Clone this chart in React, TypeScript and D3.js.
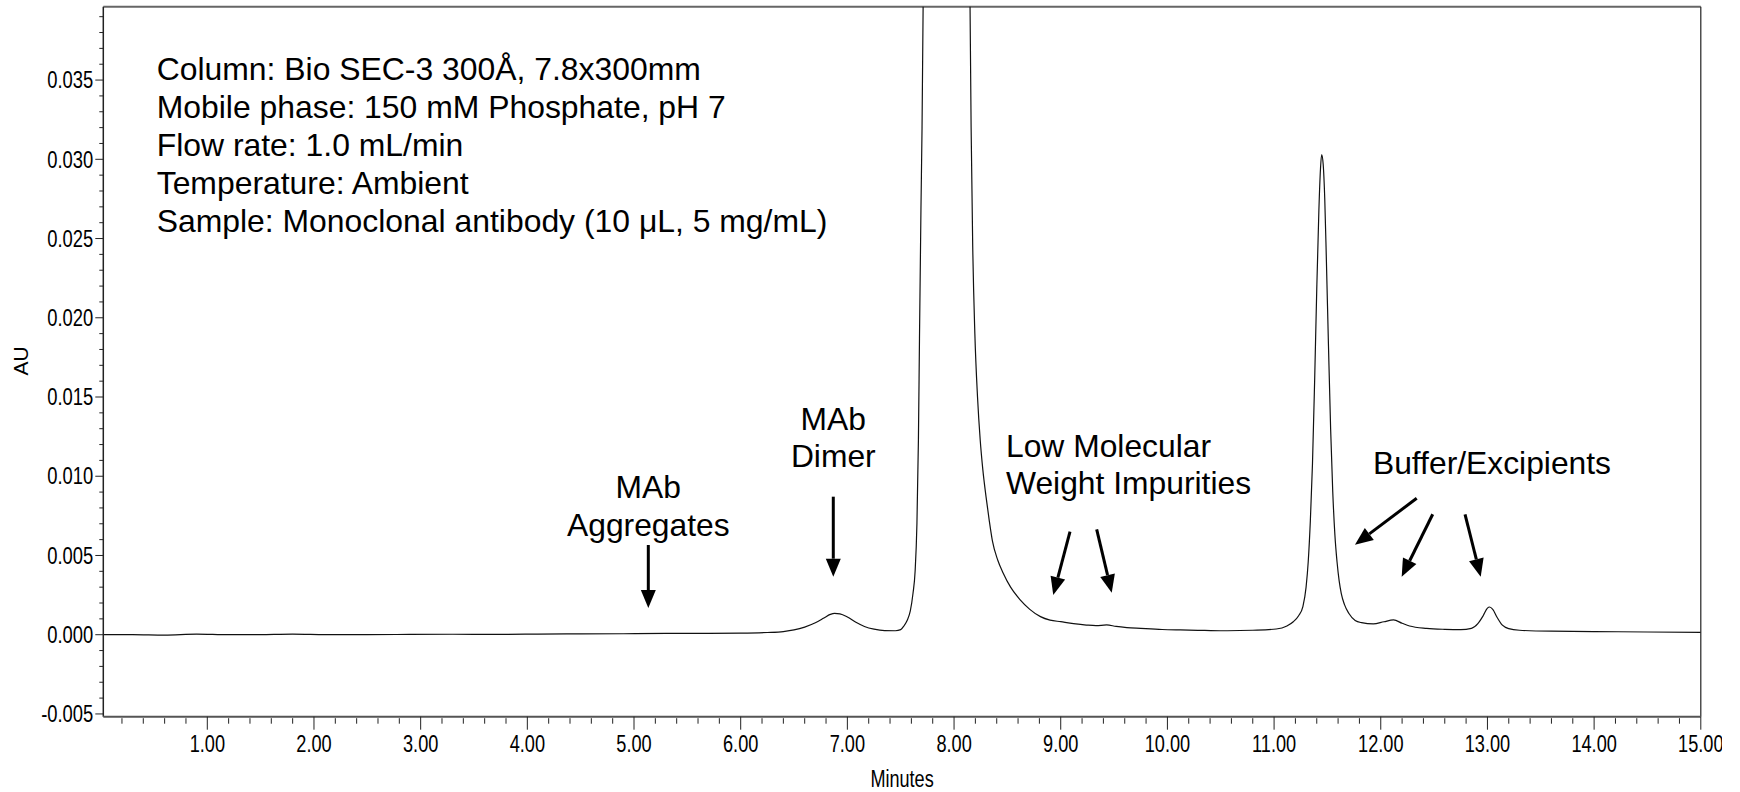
import React from 'react';
import * as d3 from 'd3';

// ---- Data ----
const times = [
  0.03, 0.3, 0.6, 0.9, 1.2, 1.5, 1.8, 2.1, 2.5, 2.9, 3.3, 3.7, 4.1, 4.5, 4.9, 5.3, 5.7, 6.0, 6.25, 6.4,
  6.5, 6.6, 6.7, 6.78, 6.84, 6.88, 6.93, 7.0, 7.08, 7.16, 7.25, 7.35, 7.45, 7.5, 7.53, 7.56, 7.59, 7.615,
  7.635, 7.652, 7.666, 7.676, 7.69, 7.7, 7.71, 7.74, 7.8, 7.93, 8.05, 8.12, 8.15, 8.16, 8.175, 8.195,
  8.22, 8.245, 8.27, 8.3, 8.33, 8.36, 8.41, 8.46, 8.53, 8.62, 8.71, 8.81, 8.9, 9.0, 9.12, 9.24, 9.33,
  9.43, 9.52, 9.62, 9.75, 9.95, 10.12, 10.35, 10.56, 10.8, 11.02, 11.12, 11.18, 11.23, 11.27, 11.3,
  11.32, 11.34, 11.36, 11.38, 11.4, 11.42, 11.435, 11.446, 11.46, 11.475, 11.49, 11.51, 11.53, 11.55,
  11.57, 11.59, 11.61, 11.63, 11.66, 11.7, 11.76, 11.82, 11.93, 12.03, 12.12, 12.2, 12.27, 12.43, 12.6,
  12.75, 12.85, 12.91, 12.96, 13.0, 13.02, 13.05, 13.09, 13.14, 13.2, 13.3, 13.6, 14.0, 14.5, 15.0,
];
const absorbance = [
  0.0, 0.00001, -0.00002, 0.00004, 0.0, 0.00001, 0.00004, 0.00001, 0.0, 0.00002, 0.00003, 0.00002,
  0.00004, 0.00005, 0.00006, 0.00008, 0.00009, 0.0001, 0.00014, 0.0002,
  0.0003, 0.00048, 0.00075, 0.00105, 0.00128, 0.00135, 0.00132, 0.00112, 0.00078, 0.00052, 0.00035,
  0.00026, 0.00025, 0.00032, 0.00055, 0.0009, 0.0015, 0.0026,
  0.004, 0.007, 0.0123, 0.0187, 0.027, 0.032, 0.0396, 0.07, 0.13, 0.17, 0.13, 0.07, 0.0396, 0.032,
  0.0245, 0.019,
  0.015, 0.0123, 0.0104, 0.0087, 0.0072, 0.0059, 0.0047, 0.0039, 0.003, 0.0022, 0.0016, 0.00114,
  0.00092, 0.00082, 0.0007, 0.00061, 0.00057,
  0.00062, 0.00052, 0.00045, 0.0004, 0.00033, 0.0003, 0.00027, 0.00025, 0.00028, 0.00036, 0.00055,
  0.00082, 0.0012, 0.00177, 0.003,
  0.0046, 0.0072, 0.0108, 0.016, 0.0218, 0.0268, 0.0294, 0.0303, 0.0297, 0.0275, 0.0237, 0.0182,
  0.013, 0.009,
  0.0063, 0.0046, 0.0034, 0.0026, 0.0019, 0.00135, 0.0009, 0.00076, 0.00068, 0.00082, 0.00093,
  0.00072, 0.00055, 0.0004, 0.00034,
  0.00032, 0.0004, 0.0007, 0.0012, 0.00168, 0.00175, 0.0016, 0.0011, 0.0006, 0.00038, 0.00028,
  0.00022, 0.0002, 0.00017, 0.00015,
];

const xTickValues = [1, 2, 3, 4, 5, 6, 7, 8, 9, 10, 11, 12, 13, 14, 15];
const yTickValues = [-0.005, 0, 0.005, 0.01, 0.015, 0.02, 0.025, 0.03, 0.035];

const infoLines = [
  'Column: Bio SEC-3 300Å, 7.8x300mm',
  'Mobile phase: 150 mM Phosphate, pH 7',
  'Flow rate: 1.0 mL/min',
  'Temperature: Ambient',
  'Sample: Monoclonal antibody (10 \u03bcL, 5 mg/mL)',
];

const labelTexts = [
  ['MAb', 'Aggregates'],
  ['MAb', 'Dimer'],
  ['Low Molecular', 'Weight Impurities'],
  ['Buffer/Excipients'],
];
const labelTimes = [5.134, 6.868, 8.487, 11.927];
const labelValues = [0.00862, 0.01292, 0.01123, 0.01014];
const labelAnchors = ['middle', 'middle', 'start', 'start'];

// arrows: start (t, v) -> end (t, v)
const arrowStartT = [5.134, 6.868, 9.087, 9.337, 12.337, 12.487, 12.79];
const arrowStartV = [0.00566, 0.00871, 0.0065, 0.00665, 0.00861, 0.0076, 0.0076];
const arrowEndT = [5.134, 6.868, 8.93, 9.478, 11.758, 12.196, 12.937];
const arrowEndV = [0.00168, 0.00366, 0.0025, 0.00265, 0.00568, 0.00365, 0.00365];

// ---- Layout ----
const W = 1740;
const H = 792;
const left = 103.3;
const right = 1700.8;
const top = 6.7;
const bottom = 716.7;
const FONT = "'Liberation Sans', Arial, Helvetica, sans-serif";

export default function App() {
  const x = d3.scaleLinear().domain([0.0251, 15]).range([left, right]);
  const y = d3.scaleLinear().domain([-0.005174, 0.03963]).range([bottom, top]);

  const pts: [number, number][] = times.map((t, i) => [t, absorbance[i]]);
  const line = d3
    .line<[number, number]>()
    .x((d) => x(d[0]))
    .y((d) => y(d[1]))
    .curve(d3.curveMonotoneX);

  const xMinor = d3.range(1, 75).map((i) => i * 0.2).filter((v) => Math.abs(v - Math.round(v)) > 1e-6);
  const yMinor = d3.range(-5, 40).map((i) => i * 0.001).filter((v) => Math.abs(v * 200 - Math.round(v * 200)) > 1e-6);

  const arrows = arrowStartT.map((t, i) => {
    const x1 = x(t), y1 = y(arrowStartV[i]);
    const x2 = x(arrowEndT[i]), y2 = y(arrowEndV[i]);
    const len = Math.hypot(x2 - x1, y2 - y1);
    const ux = (x2 - x1) / len, uy = (y2 - y1) / len;
    const hl = 18, hw = 7.5;
    const bx = x2 - ux * hl, by = y2 - uy * hl;
    const px = -uy, py = ux;
    return {
      x1, y1, bx, by,
      head: `${x2},${y2} ${bx + px * hw},${by + py * hw} ${bx - px * hw},${by - py * hw}`,
    };
  });

  return (
    <svg
      width={W}
      height={H}
      style={{ position: 'absolute', left: 0, top: 0, background: '#fff' }}
      fontFamily={FONT}
    >
      <defs>
        <clipPath id="plotClip">
          <rect x={left} y={top} width={right - left} height={bottom - top} />
        </clipPath>
        <clipPath id="pageClip">
          <rect x={0} y={0} width={1722} height={H} />
        </clipPath>
      </defs>
      <rect x={0} y={0} width={W} height={H} fill="#fff" />
      <g clipPath="url(#pageClip)">
        {/* frame */}
        <line x1={left} x2={right} y1={top} y2={top} stroke="#666" strokeWidth={2} />
        <line x1={right} x2={right} y1={top} y2={bottom} stroke="#222" strokeWidth={1.2} />

        {/* chromatogram */}
        <path d={line(pts) || ''} fill="none" stroke="#111" strokeWidth={1.2} clipPath="url(#plotClip)" />

        {/* y axis */}
        <line x1={left} x2={left} y1={top} y2={bottom} stroke="#222" strokeWidth={1.5} />
        {yMinor.map((v, i) => (
          <line key={'ym' + i} x1={left - 4} x2={left} y1={y(v)} y2={y(v)} stroke="#222" strokeWidth={1} />
        ))}
        {yTickValues.map((v) => (
          <g key={'yt' + v}>
            <line x1={left - 8} x2={left} y1={y(v)} y2={y(v)} stroke="#222" strokeWidth={1} />
            <text
              transform={`translate(${left - 10},${y(v) + 8.2}) scale(0.8,1)`}
              textAnchor="end"
              fontSize={23}
              fill="#000"
            >
              {d3.format('.3f')(v).replace('−', '-')}
            </text>
          </g>
        ))}

        {/* x axis */}
        <line x1={left} x2={right} y1={bottom} y2={bottom} stroke="#555" strokeWidth={2} />
        {xMinor.map((v, i) => (
          <line key={'xm' + i} x1={x(v)} x2={x(v)} y1={bottom + 1.5} y2={bottom + 7} stroke="#222" strokeWidth={1} />
        ))}
        {xTickValues.map((v) => (
          <g key={'xt' + v}>
            <line x1={x(v)} x2={x(v)} y1={bottom} y2={bottom + 13} stroke="#222" strokeWidth={1} />
            <text
              transform={`translate(${x(v)},${751.7}) scale(0.79,1)`}
              textAnchor="middle"
              fontSize={23}
              fill="#000"
            >
              {d3.format('.2f')(v)}
            </text>
          </g>
        ))}

        {/* axis titles */}
        <text
          transform={`translate(${(left + right) / 2},786.7) scale(0.786,1)`}
          textAnchor="middle"
          fontSize={23}
          fill="#000"
        >
          Minutes
        </text>
        <text transform="translate(28.3,361) rotate(-90)" textAnchor="middle" fontSize={21} fill="#000">
          AU
        </text>

        {/* info block */}
        {infoLines.map((s, i) => (
          <text key={'info' + i} x={156.7} y={80 + i * 38} fontSize={31.9} fill="#000">
            {s}
          </text>
        ))}

        {/* peak labels */}
        {labelTexts.map((lines, i) => (
          <text
            key={'lab' + i}
            x={x(labelTimes[i])}
            y={y(labelValues[i])}
            fontSize={31.8}
            textAnchor={labelAnchors[i] as any}
            fill="#000"
          >
            {lines.map((ln, j) => (
              <tspan key={j} x={x(labelTimes[i])} dy={j === 0 ? 0 : 37.5}>
                {ln}
              </tspan>
            ))}
          </text>
        ))}

        {/* arrows */}
        {arrows.map((a, i) => (
          <g key={'ar' + i}>
            <line x1={a.x1} y1={a.y1} x2={a.bx} y2={a.by} stroke="#000" strokeWidth={3} />
            <polygon points={a.head} fill="#000" />
          </g>
        ))}
      </g>
    </svg>
  );
}
